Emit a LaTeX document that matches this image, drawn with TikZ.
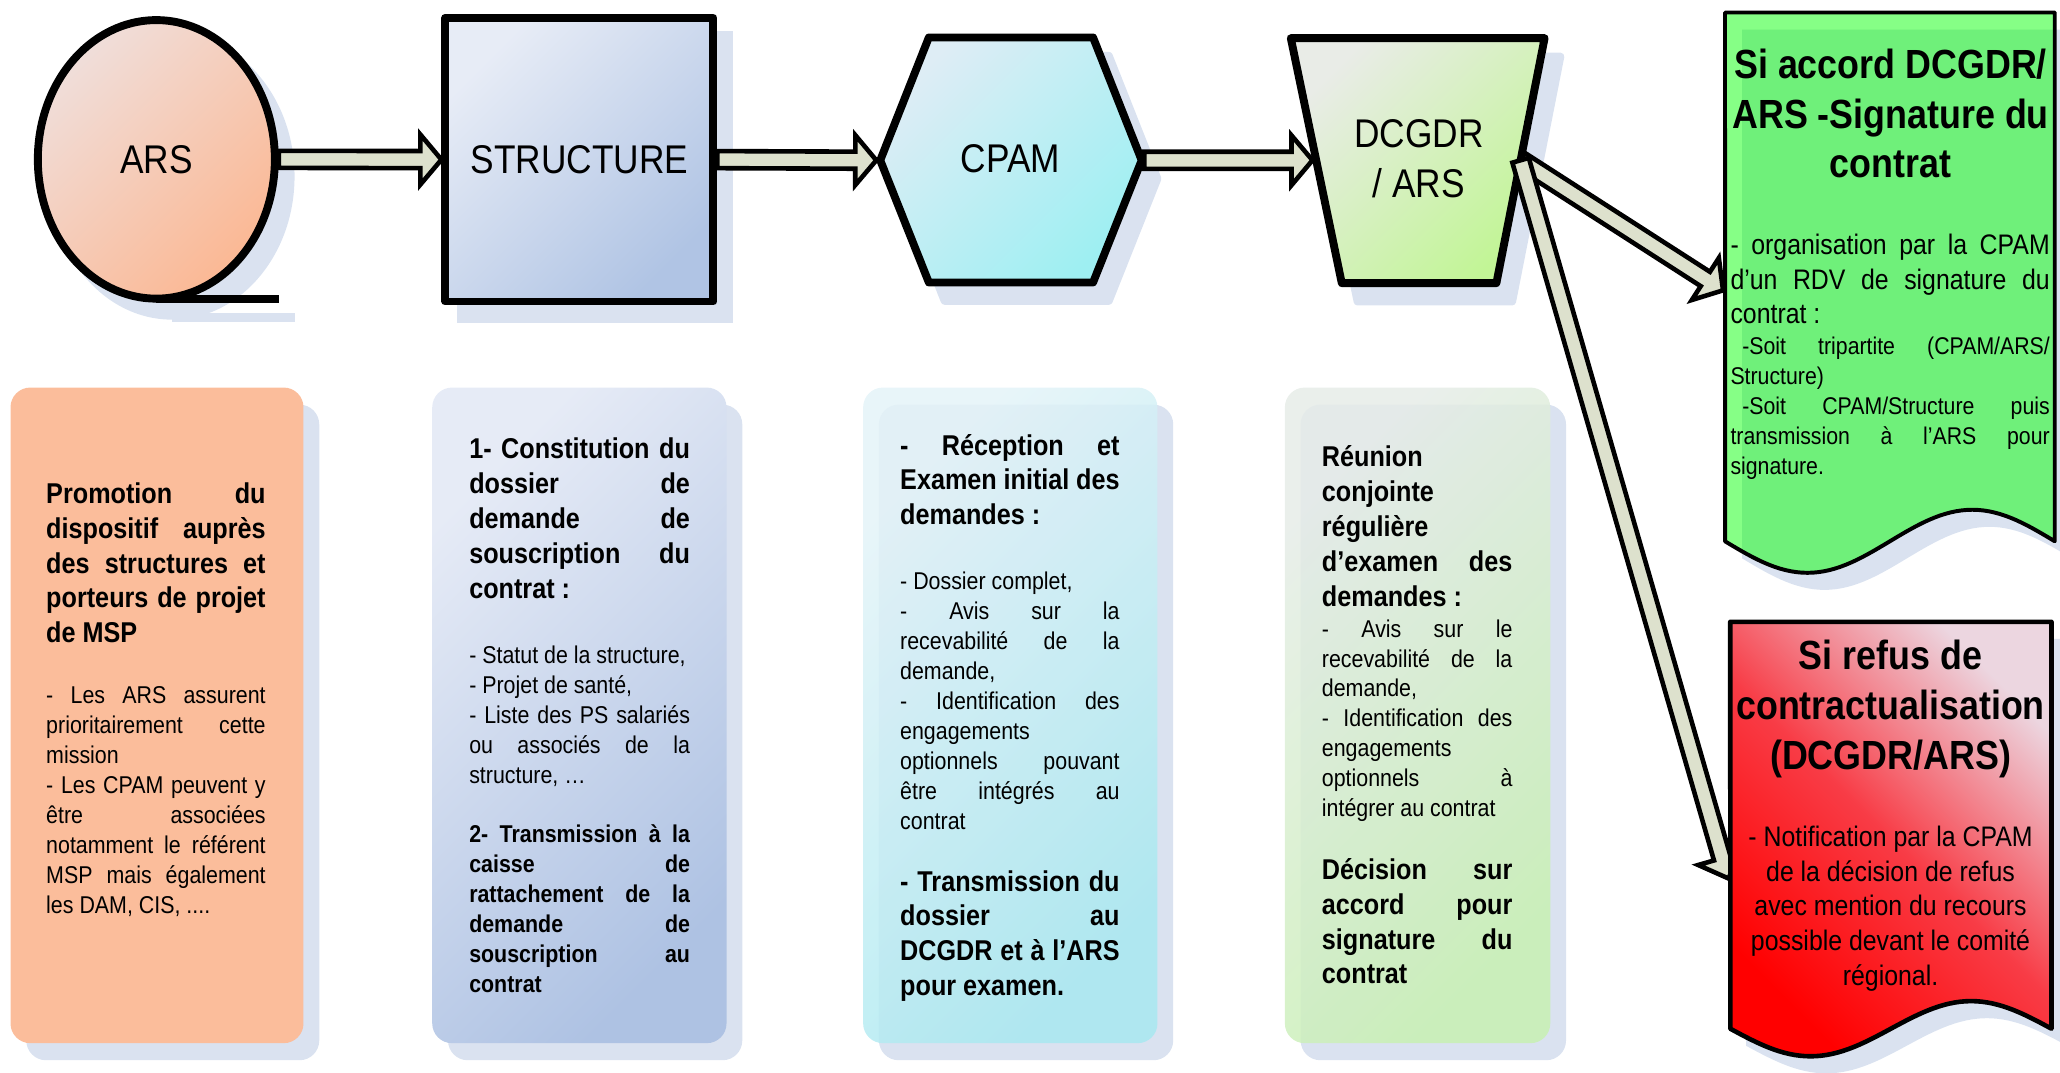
\documentclass[tikz,border=0pt]{standalone}
\usepackage{fontspec}
\setmainfont{Liberation Sans}[FakeStretch=0.88]
\usetikzlibrary{shapes.geometric,calc}
\setlength{\parindent}{0pt}
\hbadness=10000 \hfuzz=40pt \vbadness=10000 \vfuzz=40pt
\definecolor{shadowc}{RGB}{218,226,240}
\definecolor{arrowc}{RGB}{221,225,205}
\definecolor{arsA}{RGB}{240,222,218}
\definecolor{arsB}{RGB}{251,184,148}
\definecolor{strA}{RGB}{231,236,246}
\definecolor{strB}{RGB}{176,196,228}
\definecolor{cpamA}{RGB}{222,237,245}
\definecolor{cpamB}{RGB}{158,239,242}
\definecolor{dcgA}{RGB}{233,236,231}
\definecolor{dcgB}{RGB}{194,245,150}
\definecolor{boxA}{RGB}{251,189,155}
\definecolor{boxBa}{RGB}{230,235,246}
\definecolor{boxBb}{RGB}{174,194,227}
\definecolor{boxCa}{RGB}{228,243,248}
\definecolor{boxCb}{RGB}{168,233,240}
\definecolor{boxDa}{RGB}{230,236,232}
\definecolor{boxDb}{RGB}{200,241,178}
\definecolor{accc}{RGB}{111,240,122}
\definecolor{accl}{RGB}{134,255,134}
\definecolor{refA}{RGB}{236,214,224}
\definecolor{refM}{RGB}{248,60,70}
\definecolor{refB}{RGB}{255,0,0}
\newcommand\JL[1]{\par\noindent\hbox to\hsize{\spaceskip=0pt\xspaceskip=0pt #1}}
\newcommand\LL[1]{\par\noindent #1}
\newcommand\TB[2]{\parbox[t]{#1}{\spaceskip=0pt\xspaceskip=0pt #2\par}}
\newcommand\HD{\fontsize{21.8}{26.5}\selectfont\bfseries}
\newcommand\BD{\fontsize{18.5}{22.8}\selectfont}
\newcommand\BlockArrow[2]{%
  \path (#1) coordinate (ba-a) (#2) coordinate (ba-b);
  \path ($(ba-b)!16pt!(ba-a)$) coordinate (ba-c);
  \draw[blockarrow] ($(ba-a)!6.5pt!90:(ba-b)$) -- ($(ba-c)!6.5pt!-90:(ba-a)$)
    -- ($(ba-c)!19pt!-90:(ba-a)$) -- (ba-b) -- ($(ba-c)!19pt!90:(ba-a)$)
    -- ($(ba-c)!6.5pt!90:(ba-a)$) -- ($(ba-a)!6.5pt!-90:(ba-b)$) -- cycle;}
\begin{document}
\begin{tikzpicture}[x=1pt,y=-1pt,
  thickborder/.style={draw=black, line width=6pt, line join=round},
  blockarrow/.style={draw=black, fill=arrowc, line width=3.5pt, line join=miter},
  toplabel/.style={font=\fontsize{30.5}{38}\selectfont, inner sep=0pt, align=center},
  textcol/.style={anchor=north west, inner sep=0pt},
  softbox/.style={rounded corners=15pt},
  shadowshape/.style={fill=shadowc, draw=shadowc, line width=6pt, line join=round}]
\useasboundingbox (0,0) rectangle (1568,816.7);
% ---------- shadows of the top shapes
\fill[shadowc] (131,134.3) ellipse [x radius=93.2pt, y radius=109pt];
\fill[shadowc] (131,238.3) rectangle (224.5,244.8);
\fill[shadowc] (348,23.5) rectangle (558,245.5);
\path[shadowshape, shift={(12,14)}] (670,122) -- (707,28.5) -- (832,28.5) -- (869,122) -- (832,215) -- (707,215) -- cycle;
\path[shadowshape, shift={(12,14)}] (982.5,29) -- (1175.7,29) -- (1139,215.5) -- (1021.3,215.5) -- cycle;
% ---------- top shapes
\node[ellipse, thickborder, top color=arsA, bottom color=arsB, shading angle=45,
  minimum width=180.4pt, minimum height=212pt, inner sep=0pt,
  font=\fontsize{30.5}{38}\selectfont] (ars) at (119,121.3) {ARS};
\draw[line width=6pt] ($(ars.south)+(0,-2.5)$) -- ($(ars.south)+(93,-2.5)$);
\node[rectangle, thickborder, top color=strA, bottom color=strB, shading angle=45,
  minimum width=204pt, minimum height=216pt, inner sep=0pt,
  font=\fontsize{30.5}{38}\selectfont] (str) at (441,121.5) {STRUCTURE};
\draw[thickborder, top color=cpamA, bottom color=cpamB, shading angle=45]
  (670,122) -- (707,28.5) -- (832,28.5) -- (869,122) -- (832,215) -- (707,215) -- cycle;
\node[toplabel] (cpam) at (769,121) {CPAM};
\draw[thickborder, top color=dcgA, bottom color=dcgB, shading angle=45]
  (982.5,29) -- (1175.7,29) -- (1139,215.5) -- (1021.3,215.5) -- cycle;
\node[toplabel] (dcg) at (1080,120.5) {DCGDR\\/ ARS};
\coordinate (cpam-w) at (667,122);
\coordinate (cpam-e) at (871,122);
\coordinate (dcg-w) at (999,122);
\coordinate (dcg-e) at (1157.4,122);
\coordinate (acc-w) at (1311.5,221);
\coordinate (ref-w) at (1315.3,668.5);
% ---------- block arrows
\BlockArrow{ars.east}{str.west}
\BlockArrow{str.east}{cpam-w}
\BlockArrow{cpam-e}{dcg-w}
\BlockArrow{dcg-e}{acc-w}
\BlockArrow{dcg-e}{ref-w}
% ---------- green document (accord)
\fill[shadowc, shift={(13,13)}] (1313,9.5) -- (1564,9.5) -- (1564,412)
  -- plot[domain=1:0,samples=61] ({1313+251*\x},{412+24*sin(360*\x)}) -- cycle;
\fill[accl] (1313,9.5) -- (1564,9.5) -- (1564,412)
  -- plot[domain=1:0,samples=61] ({1313+251*\x},{412+24*sin(360*\x)}) -- cycle;
\begin{scope}
\clip (1313,9.5) -- (1564,9.5) -- (1564,412)
  -- plot[domain=1:0,samples=61] ({1313+251*\x},{412+24*sin(360*\x)}) -- cycle;
\fill[accc, shift={(13,13)}] (1313,9.5) -- (1564,9.5) -- (1564,412)
  -- plot[domain=1:0,samples=61] ({1313+251*\x},{412+24*sin(360*\x)}) -- cycle;
\end{scope}
\draw[line width=3pt, line join=round] (1313,9.5) -- (1564,9.5) -- (1564,412)
  -- plot[domain=1:0,samples=61] ({1313+251*\x},{412+24*sin(360*\x)}) -- cycle;
\node[anchor=north, inner sep=0pt, align=center, font=\fontsize{31}{38}\selectfont\bfseries] (acct) at (1439,36.8)
  {Si accord DCGDR/\\ARS -Signature du\\contrat};
\node[textcol] (accp1) at (1317,178.3) {\TB{243pt}{\fontsize{21.5}{26}\selectfont
  \JL{- organisation par la CPAM}
  \JL{d’un RDV de signature du}
  \LL{contrat :}}};
\node[textcol] (accp2) at (1317,256.4) {\TB{243pt}{\fontsize{18.4}{22.75}\selectfont
  \JL{\kern9pt -Soit tripartite (CPAM/ARS/}
  \LL{Structure)}
  \JL{\kern9pt -Soit CPAM/Structure puis}
  \JL{transmission à l’ARS pour}
  \LL{signature.}}};
% ---------- red document (refus)
\fill[shadowc, shift={(12,13)}] (1317,473.3) -- (1561.5,473.3) -- (1561.5,783)
  -- plot[domain=1:0,samples=61] ({1317+244.5*\x},{783+21*sin(360*\x)}) -- cycle;
\draw[line width=3.5pt, line join=round, top color=refA, bottom color=refB, middle color=refM, shading angle=-45]
  (1317,473.3) -- (1561.5,473.3) -- (1561.5,783)
  -- plot[domain=1:0,samples=61] ({1317+244.5*\x},{783+21*sin(360*\x)}) -- cycle;
\node[anchor=north, inner sep=0pt, align=center, font=\fontsize{31}{38}\selectfont\bfseries] (reft) at (1439,486.8)
  {Si refus de\\contractualisation\\(DCGDR/ARS)};
\node[anchor=north, inner sep=0pt, align=center, font=\fontsize{21.5}{26.5}\selectfont] (refb) at (1439,628.3)
  {- Notification par la CPAM\\de la décision de refus\\avec mention du recours\\possible devant le comité\\régional.};
% ---------- lower boxes
\fill[shadowc, softbox] (20,308) rectangle (243,807);
\fill[boxA, softbox] (8,295) rectangle (231,794);
\fill[shadowc, softbox] (341,308) rectangle (565,807);
\path[softbox, top color=boxBa, bottom color=boxBb, shading angle=45] (329,295) rectangle (553,794);
\fill[shadowc, softbox] (669,308) rectangle (893,807);
\path[softbox, top color=boxCa, bottom color=boxCb, shading angle=45, fill opacity=0.85] (657,295) rectangle (881,794);
\fill[shadowc, softbox] (990,308) rectangle (1192,807);
\path[softbox, top color=boxDa, bottom color=boxDb, shading angle=45, fill opacity=0.85] (978,295) rectangle (1180,794);
% box 1
\node[textcol] (b1h) at (35,367.2) {\TB{167pt}{\HD
  \JL{Promotion du}
  \JL{dispositif auprès}
  \JL{des structures et}
  \JL{porteurs de projet}
  \LL{de MSP}}};
\node[textcol] (b1b) at (35,522.3) {\TB{167pt}{\BD
  \JL{- Les ARS assurent}
  \JL{prioritairement cette}
  \LL{mission}
  \JL{- Les CPAM peuvent y}
  \JL{être associées}
  \JL{notamment le référent}
  \JL{MSP mais également}
  \LL{les DAM, CIS, ....}}};
% box 2
\node[textcol] (b2h) at (357,333.2) {\TB{168pt}{\HD
  \JL{1- Constitution du}
  \JL{dossier de}
  \JL{demande de}
  \JL{souscription du}
  \LL{contrat :}}};
\node[textcol] (b2b) at (357,491.3) {\TB{168pt}{\BD
  \LL{- Statut de la structure,}
  \LL{- Projet de santé,}
  \JL{- Liste des PS salariés}
  \JL{ou associés de la}
  \LL{structure, …}}};
\node[textcol] (b2t) at (357,627.3) {\TB{168pt}{\BD\bfseries
  \JL{2- Transmission à la}
  \JL{caisse de}
  \JL{rattachement de la}
  \JL{demande de}
  \JL{souscription au}
  \LL{contrat}}};
% box 3
\node[textcol] (b3h) at (685,330.2) {\TB{167pt}{\HD
  \JL{- Réception et}
  \JL{Examen initial des}
  \LL{demandes :}}};
\node[textcol] (b3b) at (685,435.3) {\TB{167pt}{\BD
  \LL{- Dossier complet,}
  \JL{- Avis sur la}
  \JL{recevabilité de la}
  \LL{demande,}
  \JL{- Identification des}
  \LL{engagements}
  \JL{optionnels pouvant}
  \JL{être intégrés au}
  \LL{contrat}}};
\node[textcol] (b3t) at (685,662.2) {\TB{167pt}{\HD
  \JL{- Transmission du}
  \JL{dossier au}
  \JL{DCGDR et à l’ARS}
  \LL{pour examen.}}};
% box 4
\node[textcol] (b4h) at (1006,339.2) {\TB{145pt}{\HD
  \LL{Réunion}
  \LL{conjointe}
  \LL{régulière}
  \JL{d’examen des}
  \LL{demandes :}}};
\node[textcol] (b4b) at (1006,471.3) {\TB{145pt}{\BD
  \JL{- Avis sur le}
  \JL{recevabilité de la}
  \LL{demande,}
  \JL{- Identification des}
  \LL{engagements}
  \JL{optionnels à}
  \LL{intégrer au contrat}}};
\node[textcol] (b4d) at (1006,653.2) {\TB{145pt}{\HD
  \JL{Décision sur}
  \JL{accord pour}
  \JL{signature du}
  \LL{contrat}}};
\end{tikzpicture}
\end{document}
